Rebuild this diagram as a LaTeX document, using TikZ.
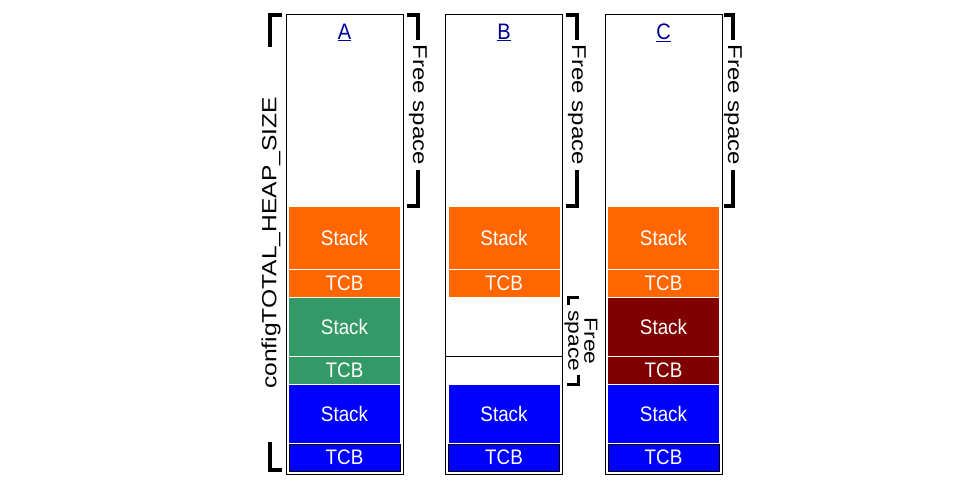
\documentclass[tikz,border=0pt]{standalone}
\usepackage{graphicx}
\usepackage{fontspec}
\setmainfont{Liberation Sans}
\usetikzlibrary{calc, positioning}

\definecolor{stackorange}{HTML}{FF6600}
\definecolor{stackgreen}{HTML}{339966}
\definecolor{stackblue}{HTML}{0000FF}
\definecolor{stackred}{HTML}{800000}
\definecolor{linknavy}{RGB}{0,0,150}

\newcommand{\hstretch}[1]{\scalebox{1}[1.12]{#1}}
\newcommand{\vstretch}[1]{\scalebox{1.2}[1]{#1}}

\tikzset{
  heapcol/.style={draw=black, line width=1pt, minimum width=117pt,
    minimum height=460pt, inner sep=0pt},
  blk/.style={inner sep=0pt, outer sep=0pt, minimum width=111pt,
    text=white, font=\fontsize{18.8}{20}\selectfont},
  stackblk/.style={blk, minimum height=#1},
  stackblk/.default=58pt,
  tcbblk/.style={blk, minimum height=27pt},
  collabel/.style={inner sep=0pt, text=linknavy,
    font=\fontsize{20}{22}\selectfont},
  brk/.style={line width=3.5pt, line join=miter},
  brklabel/.style={inner sep=0pt, font=\fontsize{20}{22}\selectfont},
}

\begin{document}
\begin{tikzpicture}[x=1pt, y=-1pt]
\useasboundingbox (0,0) rectangle (977,480);

% The three heaps
\node[heapcol] (colA) at (344.5,244) {};
\node[heapcol] (colB) at (504,244) {};
\node[heapcol] (colC) at (663.5,244) {};
\node[collabel, below=10pt of colA.north] (labA) {\hstretch{\underline{A}}};
\node[collabel, below=10pt of colB.north] (labB) {\hstretch{\underline{B}}};
\node[collabel, below=10pt of colC.north] (labC) {\hstretch{\underline{C}}};

% Heap A: three tasks
\node[stackblk=62pt, fill=stackorange, anchor=north] (stkA1) at (344.5,207) {\hstretch{Stack}};
\node[tcbblk, fill=stackorange, below=1pt of stkA1] (tcbA1) {\hstretch{TCB}};
\node[stackblk, fill=stackgreen, below=1pt of tcbA1] (stkA2) {\hstretch{Stack}};
\node[tcbblk, fill=stackgreen, below=1pt of stkA2] (tcbA2) {\hstretch{TCB}};
\node[stackblk, fill=stackblue, below=1pt of tcbA2] (stkA3) {\hstretch{Stack}};
\node[tcbblk, fill=stackblue, draw=black, line width=1pt,
    below=1pt of stkA3] (tcbA3) {\hstretch{TCB}};

% Heap B: middle task deleted
\node[stackblk=62pt, fill=stackorange, anchor=north] (stkB1) at (504,207) {\hstretch{Stack}};
\node[tcbblk, fill=stackorange, below=1pt of stkB1] (tcbB1) {\hstretch{TCB}};
\node[stackblk, fill=stackblue, anchor=north] (stkB3) at (504,385) {\hstretch{Stack}};
\node[tcbblk, fill=stackblue, draw=black, line width=1pt,
    below=1pt of stkB3] (tcbB3) {\hstretch{TCB}};
\coordinate (splitB) at (504,356);
\draw[line width=1pt] (colB.west |- splitB) -- (colB.east |- splitB);

% Heap C: new task in the gap
\node[stackblk=62pt, fill=stackorange, anchor=north] (stkC1) at (663.5,207) {\hstretch{Stack}};
\node[tcbblk, fill=stackorange, below=1pt of stkC1] (tcbC1) {\hstretch{TCB}};
\node[stackblk, fill=stackred, below=1pt of tcbC1] (stkC2) {\hstretch{Stack}};
\node[tcbblk, fill=stackred, below=1pt of stkC2] (tcbC2) {\hstretch{TCB}};
\node[stackblk, fill=stackblue, below=1pt of tcbC2] (stkC3) {\hstretch{Stack}};
\node[tcbblk, fill=stackblue, draw=black, line width=1pt,
    below=1pt of stkC3] (tcbC3) {\hstretch{TCB}};

% Bracket for the whole heap
\coordinate (heapTop) at (270,15);
\coordinate (heapBot) at (270,470);
\draw[brk] ($(heapTop)+(12,0)$) -- (heapTop) -- ($(heapTop)+(0,32)$);
\draw[brk] ($(heapBot)+(0,-28)$) -- (heapBot) -- ($(heapBot)+(12,0)$);
\node[brklabel, rotate=90, font=\fontsize{20.5}{22}\selectfont] (heapLbl) at (271,243)
    {\vstretch{configTOTAL\_HEAP\_SIZE}};

% Free space brackets
\coordinate (freeAtop) at (418,15);
\coordinate (freeAbot) at (418,206);
\draw[brk] ($(freeAtop)+(-11,0)$) -- (freeAtop) -- ($(freeAtop)+(0,25)$);
\draw[brk] ($(freeAbot)+(0,-36)$) -- (freeAbot) -- ($(freeAbot)+(-11,0)$);
\node[brklabel, rotate=-90] (freeA) at (418,105) {\vstretch{Free space}};

\coordinate (freeBtop) at (577,15);
\coordinate (freeBbot) at (577,206);
\draw[brk] ($(freeBtop)+(-11,0)$) -- (freeBtop) -- ($(freeBtop)+(0,25)$);
\draw[brk] ($(freeBbot)+(0,-36)$) -- (freeBbot) -- ($(freeBbot)+(-11,0)$);
\node[brklabel, rotate=-90] (freeB) at (577,105) {\vstretch{Free space}};

\coordinate (freeCtop) at (733,15);
\coordinate (freeCbot) at (733,206);
\draw[brk] ($(freeCtop)+(-9,0)$) -- (freeCtop) -- ($(freeCtop)+(0,25)$);
\draw[brk] ($(freeCbot)+(0,-36)$) -- (freeCbot) -- ($(freeCbot)+(-9,0)$);
\node[brklabel, rotate=-90] (freeC) at (733,105) {\vstretch{Free space}};

% Small bracket for the gap in B
\coordinate (gapTop) at (568,297);
\coordinate (gapBot) at (578,384);
\draw[brk, line width=3pt] ($(gapTop)+(11,0)$) -- (gapTop) -- ($(gapTop)+(0,8)$);
\draw[brk, line width=3pt] ($(gapBot)+(0,-9)$) -- (gapBot) -- ($(gapBot)+(-11,0)$);
\node[brklabel, rotate=-90, font=\fontsize{19}{16}\selectfont] (freeGap) at (580.5,341)
    {\vstretch{\begin{tabular}{@{}c@{}}Free\\space\end{tabular}}};
\end{tikzpicture}
\end{document}
